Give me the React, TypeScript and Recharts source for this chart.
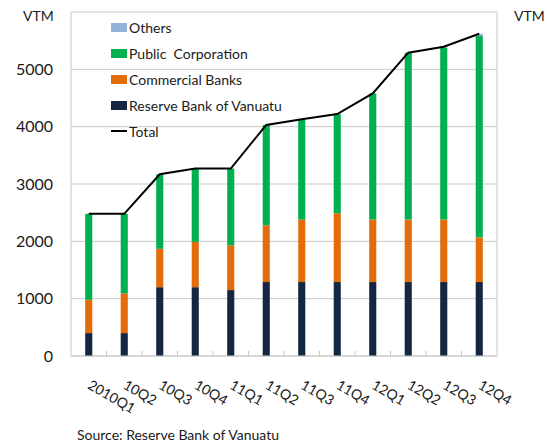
import React from 'react';
import { ComposedChart, Bar, Line, XAxis, YAxis, CartesianGrid, Legend } from 'recharts';

const categories = ['2010Q1', '10Q2', '10Q3', '10Q4', '11Q1', '11Q2', '11Q3', '11Q4', '12Q1', '12Q2', '12Q3', '12Q4'];
const reserveBank = [400, 400, 1200, 1200, 1150, 1290, 1290, 1290, 1290, 1290, 1290, 1290];
const commercialBanks = [580, 690, 670, 790, 780, 990, 1090, 1200, 1090, 1090, 1090, 780];
const publicCorp = [1500, 1390, 1300, 1280, 1340, 1750, 1750, 1730, 2200, 2910, 3000, 3510];
const others = [0, 0, 0, 0, 0, 0, 0, 0, 0, 0, 15, 40];
const total = categories.map((_, i) => reserveBank[i] + commercialBanks[i] + publicCorp[i] + others[i]);
const yTicks = [0, 1000, 2000, 3000, 4000, 5000, 6000];

const COLORS = {
  rbv: '#142642',
  cb: '#e36c0a',
  pc: '#00b050',
  ot: '#95b3d7',
  total: '#000000',
};

const legendItems = [
  { name: 'Others', color: COLORS.ot, type: 'rect' },
  { name: 'Public  Corporation', color: COLORS.pc, type: 'rect' },
  { name: 'Commercial Banks', color: COLORS.cb, type: 'rect' },
  { name: 'Reserve Bank of Vanuatu', color: COLORS.rbv, type: 'rect' },
  { name: 'Total', color: COLORS.total, type: 'line' },
];

const data = categories.map((c, i) => ({
  cat: c,
  rbv: reserveBank[i],
  cb: commercialBanks[i],
  pc: publicCorp[i],
  ot: others[i],
  total: total[i],
}));

const FONT = 'Lato, "Open Sans", sans-serif';
const TEXT = '#1a1a1a';
const GRID = '#c8c8c8';

const XTick = (props: any) => {
  const { x, y, payload, index, visibleTicksCount } = props;
  const ax = x - 2;
  const ay = y + 32;
  const half = typeof payload?.offset === 'number' ? payload.offset : 0;
  const showBoundary = half > 0 && index < (visibleTicksCount ?? categories.length) - 1;
  return (
    <g>
      {showBoundary && (
        <line x1={x + half} x2={x + half} y1={y} y2={y - 5} stroke={GRID} strokeWidth={1} />
      )}
      <text
        x={ax}
        y={ay}
        transform={`rotate(30 ${ax} ${ay})`}
        textAnchor="start"
        fontSize={14}
        fontFamily={FONT}
        fill={TEXT}
      >
        {payload.value}
      </text>
    </g>
  );
};

const renderLegend = () => (
  <div style={{ fontFamily: FONT, fontSize: 14, color: TEXT }}>
    {legendItems.map((it) => (
      <div key={it.name} style={{ height: 26, display: 'flex', alignItems: 'center', whiteSpace: 'pre' }}>
        {it.type === 'rect' ? (
          <span style={{ display: 'inline-block', width: 16, height: 9, background: it.color, marginRight: 2 }} />
        ) : (
          <span style={{ display: 'inline-block', width: 16, height: 2, background: it.color, marginRight: 2 }} />
        )}
        <span>{it.name}</span>
      </div>
    ))}
  </div>
);

export default function App() {
  return (
    <div style={{ position: 'absolute', left: 0, top: 0, width: 547, height: 445, background: '#fff' }}>
      <ComposedChart
        width={547}
        height={445}
        data={data}
        margin={{ top: 12, right: 0, bottom: 29, left: 11 }}
        barCategoryGap="60%"
      >
        <CartesianGrid vertical={false} stroke={GRID} yAxisId="left" />
        <XAxis
          xAxisId="cat"
          dataKey="cat"
          height={60}
          interval={0}
          tickLine={false}
          tickSize={0}
          tickMargin={0}
          axisLine={{ stroke: GRID }}
          tick={<XTick />}
        />
        <YAxis
          yAxisId="left"
          orientation="left"
          width={60}
          domain={[0, 6000]}
          ticks={yTicks}
          interval={0}
          tickLine={false}
          tickSize={6}
          tickMargin={12}
          axisLine={{ stroke: GRID }}
          tick={{ fontSize: 16, fill: TEXT, fontFamily: FONT }}
          tickFormatter={(v: number) => (v === 6000 ? '' : String(v))}
        />
        <YAxis
          yAxisId="right"
          orientation="right"
          width={50}
          domain={[0, 6000]}
          ticks={yTicks}
          interval={0}
          tickLine={false}
          tickSize={6}
          tickMargin={8}
          axisLine={{ stroke: GRID }}
          tick={{ fontSize: 16, fill: TEXT, fontFamily: FONT, textAnchor: 'start' }}
          tickFormatter={(v: number) => (v === 6000 ? '' : String(v))}
        />
        <Bar xAxisId="cat" yAxisId="left" dataKey="rbv" stackId="s" fill={COLORS.rbv} isAnimationActive={false} />
        <Bar xAxisId="cat" yAxisId="left" dataKey="cb" stackId="s" fill={COLORS.cb} isAnimationActive={false} />
        <Bar xAxisId="cat" yAxisId="left" dataKey="pc" stackId="s" fill={COLORS.pc} isAnimationActive={false} />
        <Bar xAxisId="cat" yAxisId="left" dataKey="ot" stackId="s" fill={COLORS.ot} isAnimationActive={false} />
        <Line
          xAxisId="cat"
          yAxisId="left"
          dataKey="total"
          type="linear"
          stroke={COLORS.total}
          strokeWidth={2}
          dot={false}
          activeDot={false}
          isAnimationActive={false}
        />
        <Legend
          layout="vertical"
          verticalAlign="middle"
          align="center"
          content={renderLegend}
          wrapperStyle={{ position: 'absolute', left: 111, top: 14, width: 260 }}
        />
      </ComposedChart>
      <div style={{ position: 'absolute', left: 23, top: 7, fontFamily: FONT, fontSize: 14, color: TEXT }}>VTM</div>
      <div style={{ position: 'absolute', left: 514, top: 7, fontFamily: FONT, fontSize: 14, color: TEXT }}>VTM</div>
      <div style={{ position: 'absolute', left: 77, top: 426, fontFamily: FONT, fontSize: 14, color: TEXT }}>
        Source: Reserve Bank of Vanuatu
      </div>
    </div>
  );
}
